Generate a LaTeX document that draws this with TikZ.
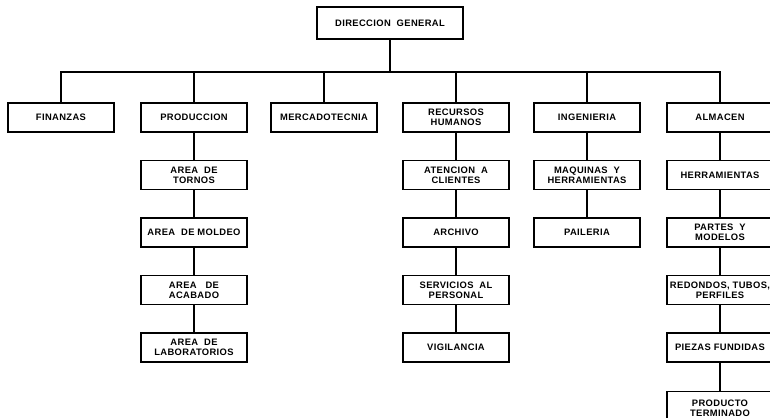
\documentclass[tikz,border=0pt]{standalone}
\usepackage{fontspec}
\setmainfont{Liberation Sans}[LetterSpace=4]
\usepackage{tikz}
\usetikzlibrary{positioning}
\tikzstyle{unit} = [rectangle, minimum width=3.18cm, minimum height=0.87cm, inner sep=1pt, align=center, draw=black, line width=0.9pt, font=\bfseries\fontsize{8}{8.5}\selectfont]
\tikzstyle{head} = [unit, minimum width=4.38cm, minimum height=0.96cm]
\tikzstyle{link} = [line width=1.3pt]

\begin{document}
\begin{tikzpicture}[x=0.03cm, y=-0.03cm, node distance=1.725cm]
\useasboundingbox (0,0) rectangle (770,418);

% Direccion
\node (direccion) [head] at (390,23) {DIRECCION\ \ GENERAL};
\coordinate (bus) at (390,72);

% Departamentos
\node (finanzas) [unit] at (61,117.5) {FINANZAS};
\node (produccion) [unit] at (194,117.5) {PRODUCCION};
\node (mercadotecnia) [unit] at (324,117.5) {MERCADOTECNIA};
\node (recursos) [unit] at (456,117.5) {RECURSOS\\HUMANOS};
\node (ingenieria) [unit] at (587,117.5) {INGENIERIA};
\node (almacen) [unit] at (720,117.5) {ALMACEN};

% Produccion
\node (tornos) [unit, below of=produccion] {AREA\ \ DE\\TORNOS};
\node (moldeo) [unit, below of=tornos] {AREA\ \ DE MOLDEO};
\node (acabado) [unit, below of=moldeo] {AREA\ \ \ DE\\ACABADO};
\node (laboratorios) [unit, below of=acabado] {AREA\ \ DE\\LABORATORIOS};

% Recursos humanos
\node (atencion) [unit, below of=recursos] {ATENCION\ \ A\\CLIENTES};
\node (archivo) [unit, below of=atencion] {ARCHIVO};
\node (servicios) [unit, below of=archivo] {SERVICIOS\ \ AL\\PERSONAL};
\node (vigilancia) [unit, below of=servicios] {VIGILANCIA};

% Ingenieria
\node (maquinas) [unit, below of=ingenieria] {MAQUINAS\ \ Y\\HERRAMIENTAS};
\node (paileria) [unit, below of=maquinas] {PAILERIA};

% Almacen
\node (herramientas) [unit, below of=almacen] {HERRAMIENTAS};
\node (partes) [unit, below of=herramientas] {PARTES\ \ Y\\MODELOS};
\node (redondos) [unit, below of=partes] {REDONDOS, TUBOS,\\PERFILES};
\node (piezas) [unit, below of=redondos] {PIEZAS FUNDIDAS};
\node (producto) [unit, below of=piezas, minimum height=1cm, yshift=-0.1cm] {PRODUCTO\\TERMINADO};

% Lineas
\draw [link] (direccion) -- (bus);
\draw [link] (finanzas) |- (bus) -| (almacen);
\foreach \d in {produccion, mercadotecnia, recursos, ingenieria}
  \draw [link] (\d) -- (\d |- bus);
\draw [link] (produccion) -- (tornos) -- (moldeo) -- (acabado) -- (laboratorios);
\draw [link] (recursos) -- (atencion) -- (archivo) -- (servicios) -- (vigilancia);
\draw [link] (ingenieria) -- (maquinas) -- (paileria);
\draw [link] (almacen) -- (herramientas) -- (partes) -- (redondos) -- (piezas) -- (producto);

\end{tikzpicture}
\end{document}
